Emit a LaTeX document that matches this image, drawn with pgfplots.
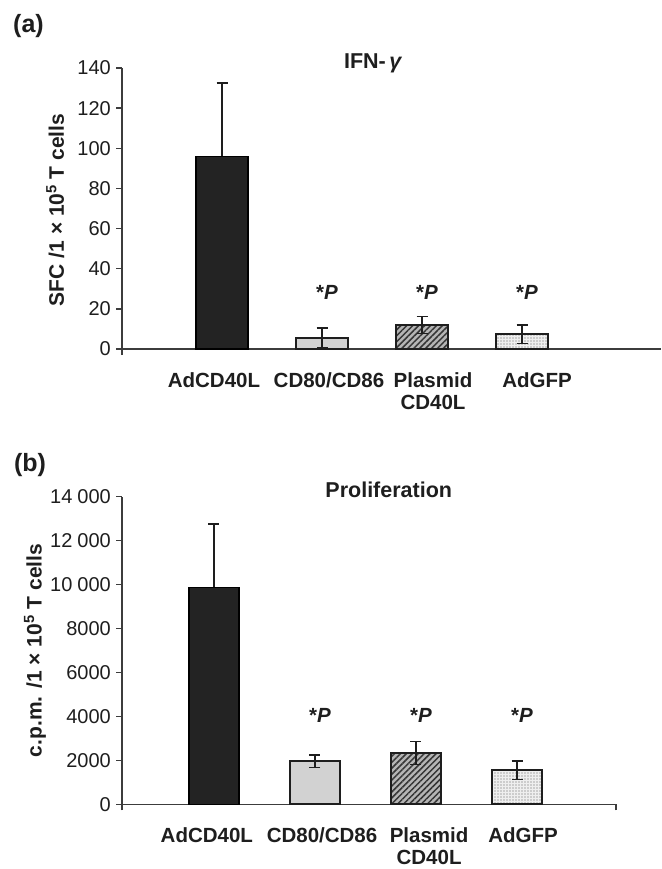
\documentclass[border=0pt]{standalone}
\usepackage{fontspec}
\setmainfont{Liberation Sans}
\usepackage{pgfplots}
\pgfplotsset{compat=1.18}
\usetikzlibrary{patterns,patterns.meta}
\definecolor{ink}{HTML}{1E1E1E}
\definecolor{axc}{HTML}{3C3C3C}
\definecolor{barblack}{HTML}{232323}
\definecolor{barlight}{HTML}{D2D2D2}
\definecolor{hatchbg}{HTML}{B5B5B5}
\definecolor{dotbg}{HTML}{EFEFEF}
\pgfplotsset{
  panel/.style={
    scale only axis, clip=false,
    axis x line*=bottom, axis y line*=left,
    axis line style={axc, line width=1.3pt},
    ymin=0,
    tick align=outside, major tick length=6pt,
    tick style={axc, line width=1.3pt},
    xticklabels={AdCD40L, CD80/CD86, Plasmid\\CD40L, AdGFP},
    xticklabel style={font=\fontsize{20.5}{22}\selectfont\bfseries, align=center, anchor=north, inner sep=0pt, yshift=-17pt, text=ink},
    xtick style={draw=none},
    extra x tick style={xtick style={draw=axc, line width=1.3pt}},
    extra x tick labels={},
    /pgf/number format/assume math mode=true,
    yticklabel style={font=\fontsize{20}{22}\selectfont, text=ink, inner sep=0pt, xshift=-5pt},
    error bars/error bar style={line width=1.5pt, draw=ink},
    error bars/error mark options={rotate=90, mark size=5.5pt, line width=1.5pt, draw=ink},
  },
  errb/.style={error bars/y dir=both, error bars/y explicit},
  bar1/.style={ybar, bar shift=0pt, draw=black, line width=1.5pt, fill=barblack, error bars/y dir=plus, error bars/y explicit},
  bar2/.style={ybar, bar shift=0pt, draw=ink, line width=2pt, fill=barlight, errb},
  bar3/.style={ybar, bar shift=0pt, draw=ink, line width=2pt, fill=hatchbg,
    postaction={pattern={Lines[angle=45, distance=4.2pt, line width=1.5pt]}, pattern color=ink!90}, errb},
  bar4/.style={ybar, bar shift=0pt, draw=ink, line width=2pt, fill=dotbg,
    postaction={pattern={Dots[distance=3pt, radius=0.7pt]}, pattern color=gray!75!black}, errb},
}
\newcommand{\sigP}{\fontsize{20.5}{22}\selectfont\bfseries *\textit{P}}
\begin{document}
\begin{tikzpicture}
\path[use as bounding box] (0pt,0pt) rectangle (661pt,-869pt);
\node[font=\fontsize{25}{27}\selectfont\bfseries, text=ink] at (28.5pt,-26pt) {(a)};
\node[font=\fontsize{25}{27}\selectfont\bfseries, text=ink] at (30pt,-465pt) {(b)};
% ---------------- panel (a)
\begin{axis}[panel,
  at={(122pt,-349pt)}, anchor=south west,
  width=539pt, height=281pt,
  xmin=0, xmax=5.39, ymax=140,
  xtick={0.92,2.07,3.11,4.15},
  ytick={0,20,...,140},
  extra x ticks={0},
  ylabel={SFC /1 × 10\textsuperscript{5} T cells},
  ylabel style={at={(axis description cs:-0.124,0.495)}, anchor=center, rotate=0,
    font=\fontsize{21}{23}\selectfont\bfseries, text=ink},
]
\addplot[bar width=52pt, bar1] coordinates {(1,96) +- (0,36.5)};
\addplot[bar width=52pt, bar2] coordinates {(2,5.5) +- (0,5)};
\addplot[bar width=52pt, bar3] coordinates {(3,12) +- (0,4.2)};
\addplot[bar width=52pt, bar4] coordinates {(4,7.3) +- (0,4.6)};
\node[text=ink] at (axis cs:2.05,28) {\sigP};
\node[text=ink] at (axis cs:3.05,28) {\sigP};
\node[text=ink] at (axis cs:4.05,28) {\sigP};
\node[font=\fontsize{21.5}{23}\selectfont\bfseries, text=ink] at (axis description cs:0.466,1.018) {IFN-\,\textit{γ}};
\end{axis}
% ---------------- panel (b)
\begin{axis}[panel,
  at={(122pt,-804.3pt)}, anchor=south west,
  width=494pt, height=307.6pt,
  xmin=0.09, xmax=4.98, ymax=14000,
  xtick={0.93,2.07,3.13,4.06},
  ytick={0,2000,...,14000},
  yticklabels={0,2000,4000,6000,8000,10\hspace{0.25em}000,12\hspace{0.25em}000,14\hspace{0.25em}000},
  scaled y ticks=false,
  extra x ticks={0.09,4.98},
  ylabel={c.p.m. /1 × 10\textsuperscript{5} T cells},
  ylabel style={at={(axis description cs:-0.176,0.5)}, anchor=center, rotate=0,
    font=\fontsize{21}{23}\selectfont\bfseries, text=ink},
]
\addplot[bar width=50pt, bar1] coordinates {(1,9877) +- (0,2870)};
\addplot[bar width=50pt, bar2] coordinates {(2,1957) +- (0,290)};
\addplot[bar width=50pt, bar3] coordinates {(3,2340) +- (0,520)};
\addplot[bar width=50pt, bar4] coordinates {(4,1555) +- (0,420)};
\node[text=ink] at (axis cs:2.05,4065) {\sigP};
\node[text=ink] at (axis cs:3.05,4065) {\sigP};
\node[text=ink] at (axis cs:4.05,4065) {\sigP};
\node[font=\fontsize{21.5}{23}\selectfont\bfseries, text=ink] at (axis description cs:0.54,1.022) {Proliferation};
\end{axis}
\end{tikzpicture}
\end{document}
